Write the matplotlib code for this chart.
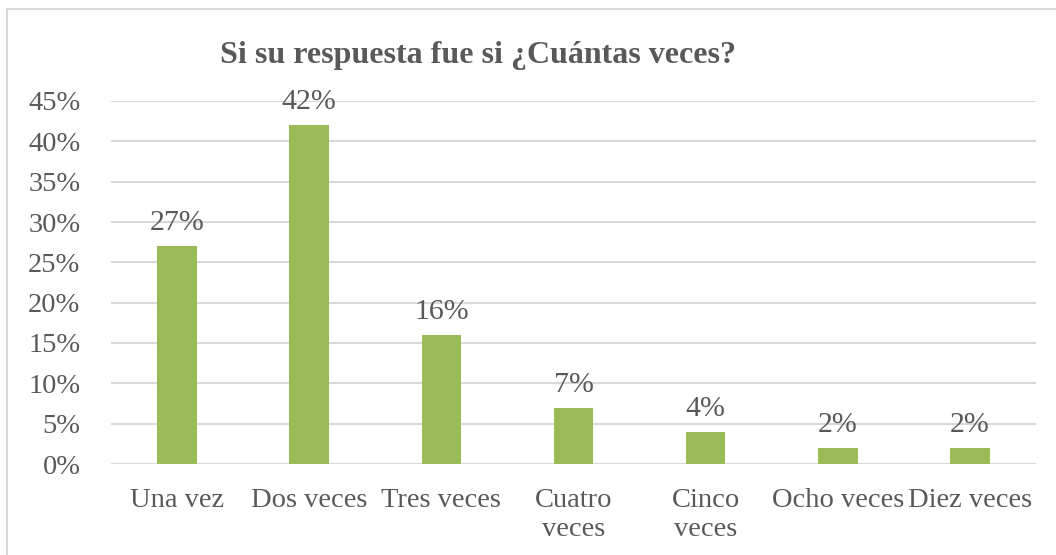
import matplotlib.pyplot as plt
from matplotlib.lines import Line2D

categories = ["Una vez", "Dos veces", "Tres veces", "Cuatro\nveces",
              "Cinco\nveces", "Ocho veces", "Diez veces"]
values = [27, 42, 16, 7, 4, 2, 2]
yticks = [0, 5, 10, 15, 20, 25, 30, 35, 40, 45]

text_color = "#595959"
bar_color = "#9BBB59"
grid_color = "#D9D9D9"

plt.rcParams['font.family'] = ['Liberation Serif', 'DejaVu Serif']

fig = plt.figure(figsize=(10.56, 5.55), dpi=100)
ax = fig.add_axes([111 / 1056, 1 - 464 / 555, (1036 - 111) / 1056, (464 - 101) / 555])

x = range(len(categories))
bars = ax.bar(x, values, width=0.30, color=bar_color, zorder=3)
for i, v in enumerate(values):
    ax.annotate(f"{v}%", (i, v), xytext=(0, 7), textcoords="offset points",
                ha="center", va="bottom", fontsize=21.5, color=text_color)

ax.set_xlim(-0.5, len(categories) - 0.5)
ax.set_ylim(0, 45)
ax.set_yticks(yticks)
ax.set_yticklabels([f"{t}%" for t in yticks])
ax.set_xticks(list(x))
ax.set_xticklabels(categories, va="top", linespacing=1.25)
ax.tick_params(axis="both", length=0, labelsize=20.5, labelcolor=text_color)
ax.tick_params(axis="x", pad=17)
ax.tick_params(axis="y", pad=22)
ax.grid(axis="y", color=grid_color, linewidth=1.5, zorder=0)
for s in ax.spines.values():
    s.set_visible(False)

fig.text(478 / 1056, 1 - 55 / 555, "Si su respuesta fue si ¿Cuántas veces?",
         ha="center", va="center", fontsize=23, fontweight="bold", color=text_color)

# outer chart border (left and top only visible)
fig.add_artist(Line2D([7 / 1056, 7 / 1056], [0, 1 - 9 / 555], color=grid_color, linewidth=1.5))
fig.add_artist(Line2D([7 / 1056, 1], [1 - 9 / 555, 1 - 9 / 555], color=grid_color, linewidth=1.5))

fig.savefig("out.png", dpi=100)
